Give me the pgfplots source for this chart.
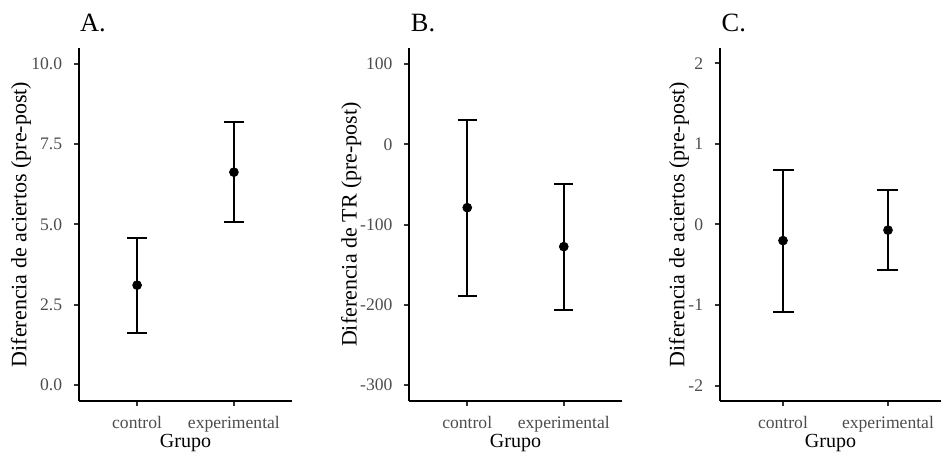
\documentclass[border=0pt]{standalone}
\usepackage{fontspec}
\setmainfont{Liberation Serif}
\usepackage{pgfplots}
\pgfplotsset{compat=1.18}
\definecolor{ggtext}{HTML}{4D4D4D}
\definecolor{ggtick}{HTML}{333333}

\pgfplotsset{
  ggpanel/.style={
    scale only axis,
    height=176.5pt,
    anchor=south west,
    axis x line*=bottom, axis y line*=left,
    x axis line style={-}, y axis line style={-},
    axis line style={black, line width=1pt},
    tick align=outside, major tick length=2.75pt,
    every tick/.style={ggtick, line width=1pt},
    xmin=0.4, xmax=2.6,
    xtick={1,2}, xticklabels={control,experimental},
    tick label style={font=\fontsize{8.8}{10}\selectfont, text=ggtext, inner sep=0pt},
    xticklabel style={anchor=base, yshift=-11pt},
    yticklabel style={anchor=east, xshift=-5.5pt},
    xlabel={Grupo},
    label style={font=\fontsize{11}{13}\selectfont},
    every axis x label/.style={at={(axis description cs:0.5,-0.133)}, anchor=base},
    title style={anchor=base west, inner sep=0pt, font=\fontsize{13.2}{15}\selectfont},
  },
  ggerr/.style={
    black, only marks, mark=*, mark size=2.2pt,
    error bars/.cd, y dir=both, y explicit,
    error bar style={line width=1pt},
    error mark options={rotate=90, line width=1pt, mark size=#1},
  },
}

\begin{document}
\begin{tikzpicture}
\path[use as bounding box] (0,0) rectangle (470.5pt,227pt);

% A
\begin{axis}[ggpanel,
  at={(39.5pt,26.5pt)}, width=106.5pt,
  ymin=-0.5, ymax=10.5,
  ytick={0,2.5,5,7.5,10}, yticklabels={0.0,2.5,5.0,7.5,10.0},
  ylabel={Diferencia de aciertos (pre-post)},
  ylabel style={at={(axis description cs:-0.272,0.5)}, anchor=center},
  title={A.}, title style={at={(axis description cs:0.003,1.012)}},
]
\addplot[ggerr=4.85pt] table[x=x, y=y, y error=e] {
x y e
1 3.11 1.48
2 6.63 1.555
};
\end{axis}

% B
\begin{axis}[ggpanel,
  at={(204.65pt,26.5pt)}, width=106.2pt,
  ymin=-320, ymax=120,
  ytick={-300,-200,-100,0,100}, yticklabels={-300,-200,-100,0,100},
  ylabel={Diferencia de TR (pre-post)},
  ylabel style={at={(axis description cs:-0.273,0.5)}, anchor=center},
  title={B.}, title style={at={(axis description cs:0.006,1.012)}},
]
\addplot[ggerr=4.8pt] table[x=x, y=y, y error=e] {
x y e
1 -79 109.5
2 -127.6 78.7
};
\end{axis}

% C
\begin{axis}[ggpanel,
  at={(360pt,26.5pt)}, width=110.5pt, xmax=2.505,
  ymin=-2.19, ymax=2.19,
  ytick={-2,-1,0,1,2}, yticklabels={-2,-1,0,1,2},
  ylabel={Diferencia de aciertos (pre-post)},
  ylabel style={at={(axis description cs:-0.186,0.5)}, anchor=center},
  title={C.}, title style={at={(axis description cs:0.006,1.012)}},
]
\addplot[ggerr=5.25pt] table[x=x, y=y, y error=e] {
x y e
1 -0.2 0.88
2 -0.07 0.5
};
\end{axis}
\end{tikzpicture}
\end{document}
